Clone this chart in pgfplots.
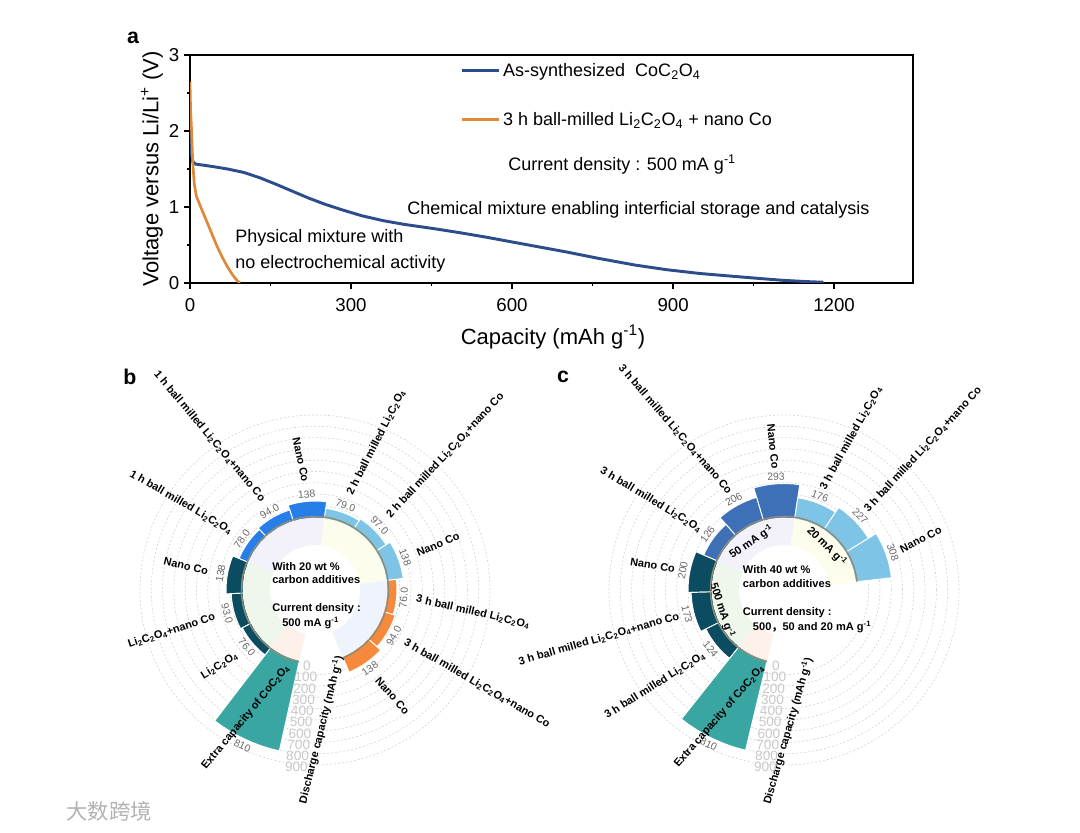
\documentclass[border=0pt]{standalone}
\usepackage{fontspec}
\setmainfont{Liberation Sans}
\newfontfamily\cjk{Noto Sans CJK SC}
\usepackage{pgfplots}
\pgfplotsset{compat=1.18}
\usepgfplotslibrary{polar}
\usetikzlibrary{calc}

\definecolor{cblue}{RGB}{44,76,140}
\definecolor{corange}{RGB}{222,137,58}
\definecolor{dteal}{RGB}{12,76,96}
\definecolor{bblue}{RGB}{40,126,232}
\definecolor{mblue}{RGB}{62,112,184}
\definecolor{lblue}{RGB}{126,196,230}
\definecolor{borange}{RGB}{247,137,60}
\definecolor{teal8}{RGB}{58,166,162}
\definecolor{plav}{RGB}{243,241,250}
\definecolor{pyel}{RGB}{253,253,238}
\definecolor{pgrn}{RGB}{239,247,237}
\definecolor{pblu}{RGB}{238,243,252}
\definecolor{ppch}{RGB}{253,241,233}
\definecolor{ringc}{RGB}{140,140,122}
\definecolor{valgray}{RGB}{105,105,105}
\definecolor{axgray}{RGB}{200,200,200}

\newcommand{\LCO}{Li\textsubscript{2}C\textsubscript{2}O\textsubscript{4}}
\newcommand{\vfont}{\fontsize{7.8}{8}\selectfont}
\newcommand{\cfont}{\fontsize{8.2}{9}\selectfont\bfseries}
\newcommand{\tfont}{\fontsize{10.2}{11}\selectfont}
\newcommand{\ifont}{\fontsize{8.3}{9}\selectfont\bfseries}

% wedge from the centre out to a value (radius = value + 650)
\newcommand{\sect}[4]{%
  \pgfmathsetmacro\sR{#3+650}%
  \pgfmathsetmacro\sD{((#2)-(#1))/8}%
  \pgfmathsetmacro\sA{#1}%
  \pgfmathsetmacro\sB{\sA+\sD}%
  \pgfmathsetmacro\sC{\sB+\sD}%
  \pgfmathsetmacro\sE{\sC+\sD}%
  \pgfmathsetmacro\sF{\sE+\sD}%
  \pgfmathsetmacro\sG{\sF+\sD}%
  \pgfmathsetmacro\sH{\sG+\sD}%
  \pgfmathsetmacro\sJ{\sH+\sD}%
  \pgfmathsetmacro\sK{\sJ+\sD}%
  \addplot[#4] coordinates {(\sA,0)(\sA,\sR)(\sB,\sR)(\sC,\sR)(\sE,\sR)(\sF,\sR)(\sG,\sR)(\sH,\sR)(\sJ,\sR)(\sK,\sR)(\sK,0)} -- cycle;%
}
\newcommand{\bbar}[3]{\sect{#1-12.5}{#1+12.5}{#2}{fill=#3,draw=white,line width=0.7pt}}
\newcommand{\vlab}[3]{\node[text=valgray,font=\vfont,rotate=#3,inner sep=0pt] at (axis cs:#1,{#2+712}) {#2};}
% category labels: angle, value, rotation, text
\newcommand{\clR}[4]{\node[font=\cfont,anchor=west,rotate=#3,inner sep=0pt] at (axis cs:#1,{#2+\lofs}) {#4};}
\newcommand{\clL}[4]{\node[font=\cfont,anchor=east,rotate=#3,inner sep=0pt] at (axis cs:#1,{#2+\lofs}) {#4};}

\pgfplotsset{polstyle/.style={anchor=center, width=262.5pt, height=262.5pt, scale only axis,
  xmin=0, xmax=360, ymin=0, ymax=1550, xtick=\empty, ytick={750,850,...,1550}, yticklabels={},
  ymajorgrids=true, xmajorgrids=false,
  major grid style={black!16, dash pattern=on 1.5pt off 1.5pt, line width=0.5pt},
  axis line style={draw=none}, tick style={draw=none}, clip=false}}

\begin{document}
\begin{tikzpicture}[x=0.75pt,y=0.75pt]
\useasboundingbox (0,0) rectangle (1080,832);

% ---------------- panel a ----------------
\begin{axis}[
  at={(142.5pt,411.75pt)}, anchor=south west,
  width=542.25pt, height=171pt, scale only axis,
  xmin=0, xmax=1347, ymin=0, ymax=3,
  xtick={0,300,...,1200}, ytick={0,1,2,3},
  minor xtick={150,450,750,1050}, minor ytick={0.5,1.5,2.5},
  tick align=outside, xtick pos=bottom, ytick pos=left,
  major tick length=4.5pt, minor tick length=2.5pt,
  tick style={black, line width=1pt},
  axis line style={line width=1.5pt},
  tick label style={font=\fontsize{14}{14}\selectfont},
  /pgf/number format/assume math mode=true,
  xticklabel style={/pgf/number format/1000 sep={}, yshift=-3.5pt},
  xlabel={Capacity (mAh g\textsuperscript{-1})},
  ylabel={Voltage versus Li/Li\textsuperscript{+} (V)},
  label style={font=\fontsize{16.5}{17}\selectfont},
  xlabel style={at={(axis description cs:0.502,-0.237)}, anchor=center},
  ylabel style={at={(axis description cs:-0.0526,0.5)}, anchor=center},
  legend style={at={(axis cs:503,2.93)}, anchor=north west, draw=none, fill=none,
    font=\fontsize{13.5}{14}\selectfont, row sep=21.5pt, inner sep=0pt},
  legend cell align=left,
  legend image code/.code={\draw[#1] (0pt,0pt) -- (28pt,0pt);},
]
\addplot[cblue, line width=2.2pt, line join=round] coordinates {
  (0,2.1)(2,1.75)(5,1.6)(10,1.565)(40,1.535)(70,1.50)(100,1.455)(130,1.385)(160,1.30)
  (190,1.21)(220,1.12)(250,1.04)(280,0.97)(320,0.885)(360,0.82)(400,0.77)(450,0.72)
  (500,0.665)(550,0.605)(600,0.54)(650,0.475)(700,0.41)(764,0.32)(830,0.235)
  (888,0.175)(950,0.125)(1012,0.088)(1060,0.06)(1105,0.035)(1150,0.018)(1180,0.01)
};
\addlegendentry{As-synthesized\ \ CoC\textsubscript{2}O\textsubscript{4}}
\addplot[corange, line width=2pt, line join=round] coordinates {
  (0,2.65)(1,2.3)(3,2.0)(5,1.6)(8,1.3)(12,1.14)(20,1.0)(30,0.83)(40,0.66)
  (50,0.49)(60,0.34)(70,0.21)(80,0.10)(88,0.03)(93,0)
};
\addlegendentry{3 h ball-milled \LCO{} + nano Co}
\end{axis}
\begin{scope}[font=\fontsize{13.5}{14}\selectfont]
\node[anchor=base west, inner sep=0pt] at (508,661.3) {Current density : 500 mA g\textsuperscript{-1}};
\node[anchor=base west, inner sep=0pt] at (407,617.7) {Chemical mixture enabling interficial storage and catalysis};
\node[anchor=base west, inner sep=0pt] at (235,589.5) {Physical mixture with};
\node[anchor=base west, inner sep=0pt] at (235,563.7) {no electrochemical activity};
\end{scope}
\begin{scope}[font=\fontsize{16}{16}\selectfont\bfseries]
\node at (133,794.5) {a};
\node at (130,455) {b};
\node at (563,455) {c};
\end{scope}

% ---------------- panel b ----------------
\def\lofs{823}
\begin{polaraxis}[polstyle, at={(236.25pt,181.5pt)}]
\bbar{95}{138}{bblue}
\bbar{120}{94.0}{bblue}
\bbar{145}{78.0}{bblue}
\bbar{170}{138}{dteal}
\bbar{195}{93.0}{dteal}
\bbar{220}{76.0}{dteal}
\bbar{245}{810}{teal8}
\bbar{70}{79.0}{lblue}
\bbar{45}{97.0}{lblue}
\bbar{20}{138}{lblue}
\bbar{-5}{76.0}{borange}
\bbar{-30}{94.0}{borange}
\bbar{-55}{138}{borange}
\sect{82.5}{157.5}{-8}{fill=plav,draw=none}
\sect{157.5}{232.5}{-8}{fill=pgrn,draw=none}
\sect{232.5}{257.5}{-8}{fill=ppch,draw=none}
\sect{7.5}{82.5}{-8}{fill=pyel,draw=none}
\sect{-67.5}{7.5}{-8}{fill=pblu,draw=none}
\vlab{95}{138}{5}
\vlab{120}{94.0}{30}
\vlab{145}{78.0}{55}
\vlab{170}{138}{80}
\vlab{195}{93.0}{-75}
\vlab{220}{76.0}{-50}
\vlab{245}{810}{-25}
\vlab{70}{79.0}{-20}
\vlab{45}{97.0}{-45}
\vlab{20}{138}{-70}
\vlab{-5}{76.0}{85}
\vlab{-30}{94.0}{60}
\vlab{-55}{138}{35}
\clL{95}{138}{-78}{Nano Co}
\clL{120}{94.0}{-50}{1 h ball milled \LCO+nano Co}
\clL{145}{78.0}{-30}{1 h ball milled \LCO}
\clL{170}{138}{-13}{Nano Co}
\clL{195}{93.0}{18}{\LCO+nano Co}
\clL{220}{76.0}{31}{\LCO}
\clR{70}{79.0}{63}{2 h ball milled \LCO}
\clR{45}{97.0}{47}{2 h ball milled \LCO+nano Co}
\clR{20}{138}{22}{Nano Co}
\clR{-5}{76.0}{-13}{3 h ball milled \LCO}
\clR{-30}{94.0}{-30}{3 h ball milled \LCO+nano Co}
\clR{-55}{138}{-48}{Nano Co}
\node[font=\cfont,rotate=50.5,inner sep=0pt] at (axis cs:241.5,1284) {Extra capacity of CoC\textsubscript{2}O\textsubscript{4}};
\node[font=\cfont,rotate=76,inner sep=0pt] at (axis cs:272.5,1240) {Discharge capacity (mAh g\textsuperscript{-1})};
\pgfplotsinvokeforeach{0,100,...,900}{\node[text=axgray,font=\tfont,inner sep=0pt] at (axis cs:264,{#1+677}) {#1};}
\end{polaraxis}
\coordinate (cb) at (315,242);
\fill[white] (cb) circle (45);
\draw[ringc, line width=1.1pt] ($(cb)+(-67.5:73.5)$) arc[start angle=-67.5, end angle=257.5, radius=73.5];
\begin{scope}[font=\ifont]
\node[anchor=base west,inner sep=0pt] at (272,262) {With 20 wt \%};
\node[anchor=base west,inner sep=0pt] at (272,248.7) {carbon additives};
\node[anchor=base west,inner sep=0pt] at (272,221) {Current density :};
\node[anchor=base west,inner sep=0pt] at (282,205.3) {500 mA g\textsuperscript{-1}};
\end{scope}

% ---------------- panel c ----------------
\def\lofs{783}
\begin{polaraxis}[polstyle, at={(588pt,181.5pt)}]
\bbar{94}{293}{mblue}
\bbar{119}{206}{mblue}
\bbar{144}{126}{mblue}
\bbar{169}{200}{dteal}
\bbar{194}{173}{dteal}
\bbar{219}{124}{dteal}
\bbar{244}{810}{teal8}
\bbar{69}{176}{lblue}
\bbar{44}{227}{lblue}
\bbar{19}{308}{lblue}
\sect{81.5}{156.5}{-8}{fill=plav,draw=none}
\sect{156.5}{231.5}{-8}{fill=pgrn,draw=none}
\sect{231.5}{256.5}{-8}{fill=ppch,draw=none}
\sect{6.5}{81.5}{-8}{fill=pyel,draw=none}
\vlab{94}{293}{4}
\vlab{119}{206}{29}
\vlab{144}{126}{54}
\vlab{169}{200}{79}
\vlab{194}{173}{-76}
\vlab{219}{124}{-51}
\vlab{244}{810}{-26}
\vlab{69}{176}{-21}
\vlab{44}{227}{-46}
\vlab{19}{308}{-71}
\clL{94}{293}{-84}{Nano Co}
\clL{119}{206}{-49}{3 h ball milled \LCO+nano Co}
\clL{144}{126}{-31}{3 h ball milled \LCO}
\clL{169}{200}{-9}{Nano Co}
\clL{194}{173}{16}{3 h ball milled \LCO+nano Co}
\clL{219}{124}{32}{3 h ball milled \LCO}
\clR{69}{176}{61}{3 h ball milled \LCO}
\clR{44}{227}{47}{3 h ball milled \LCO+nano Co}
\clR{19}{308}{27}{Nano Co}
\node[font=\cfont,rotate=49,inner sep=0pt] at (axis cs:243,1258) {Extra capacity of CoC\textsubscript{2}O\textsubscript{4}};
\node[font=\cfont,rotate=74,inner sep=0pt] at (axis cs:271.6,1249) {Discharge capacity (mAh g\textsuperscript{-1})};
\node[font=\ifont,rotate=34,inner sep=0pt] at (axis cs:124,514) {50 mA g\textsuperscript{-1}};
\node[font=\ifont,rotate=-45,inner sep=0pt] at (axis cs:45.4,540) {20 mA g\textsuperscript{-1}};
\node[font=\ifont,rotate=-72,inner sep=0pt] at (axis cs:198,576) {500 mA g\textsuperscript{-1}};
\pgfplotsinvokeforeach{0,100,...,900}{\node[text=axgray,font=\tfont,inner sep=0pt] at (axis cs:264,{#1+677}) {#1};}
\end{polaraxis}
\coordinate (cc) at (784,242);
\fill[white] (cc) circle (45);
\draw[ringc, line width=1.1pt] ($(cc)+(6.5:73.5)$) arc[start angle=6.5, end angle=256.5, radius=73.5];
\begin{scope}[font=\ifont]
\node[anchor=base west,inner sep=0pt] at (742.7,258.7) {With 40 wt \%};
\node[anchor=base west,inner sep=0pt] at (742.7,244.7) {carbon additives};
\node[anchor=base west,inner sep=0pt] at (742.7,217) {Current density :};
\node[anchor=base west,inner sep=0pt] at (752.7,202) {500{\cjk ，}50 and 20 mA g\textsuperscript{-1}};
\end{scope}

\node[text=black!30, font=\fontsize{16}{16}\selectfont\cjk] at (109,21) {大数跨境};
\end{tikzpicture}
\end{document}
